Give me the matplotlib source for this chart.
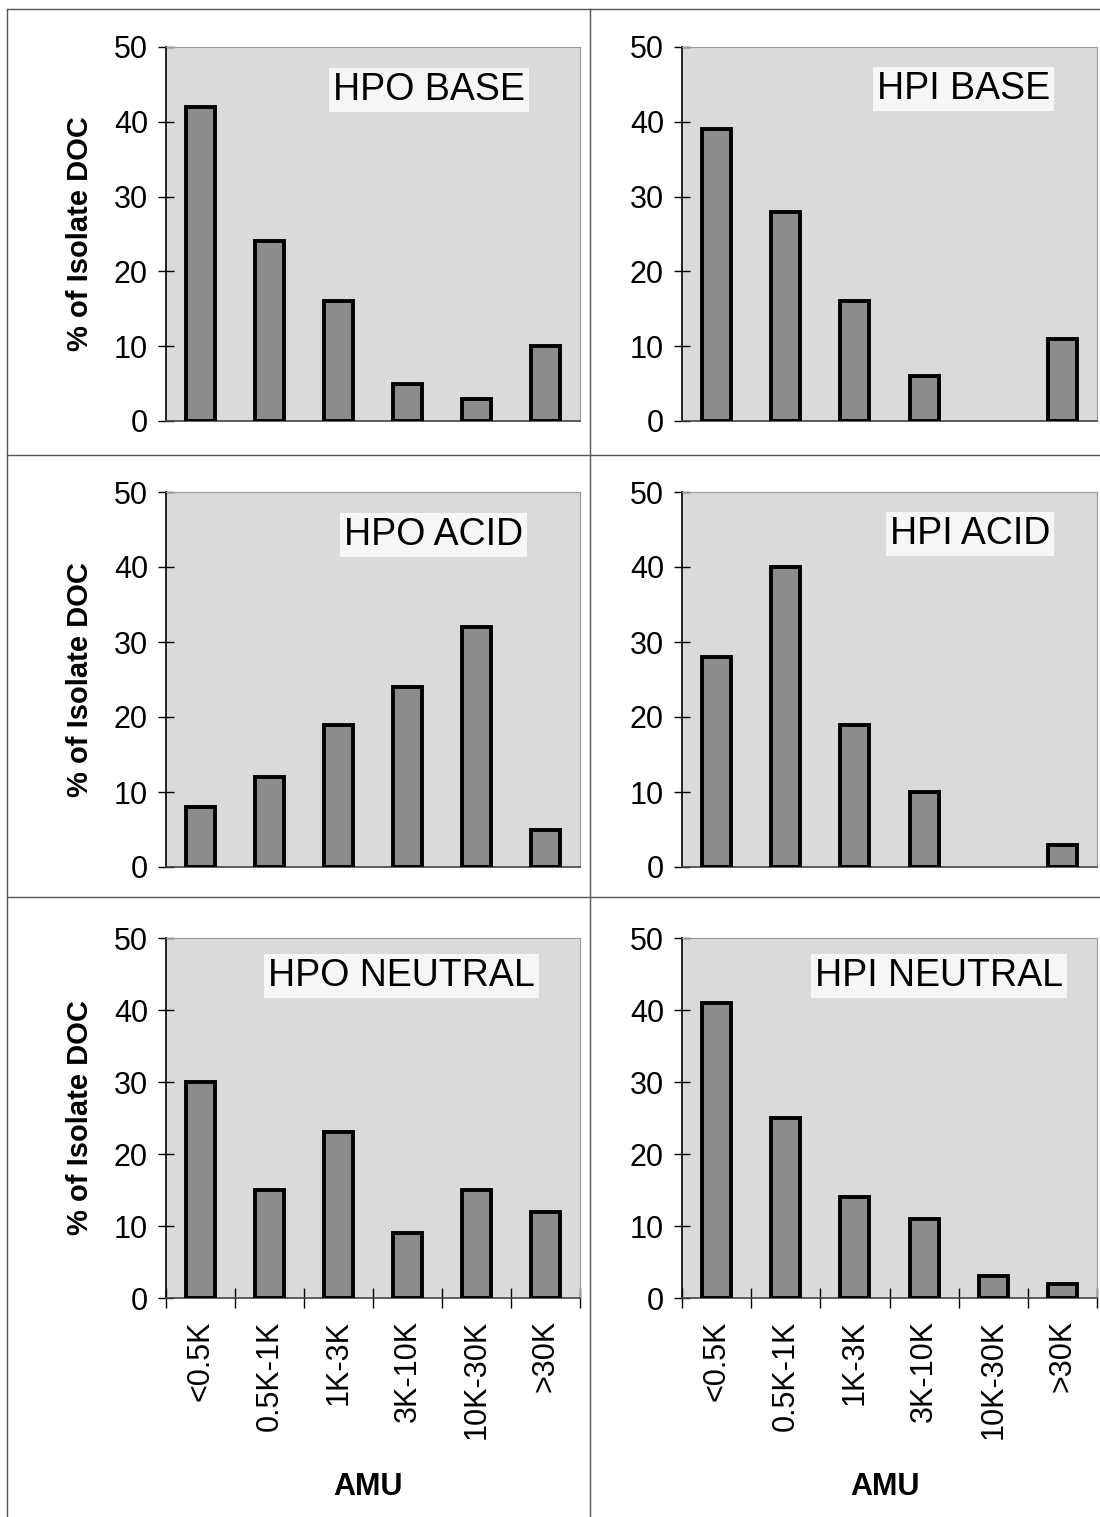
import numpy as np
import matplotlib.pyplot as plt

plt.rcParams['font.family'] = ['Liberation Sans', 'DejaVu Sans']

# categories (molecular weight ranges)
amu = ['<0.5K', '0.5K-1K', '1K-3K', '3K-10K', '10K-30K', '>30K']

# % of isolate DOC per fraction
hpo_base = [42, 24, 16, 5, 3, 10]
hpi_base = [39, 28, 16, 6, 0, 11]
hpo_acid = [8, 12, 19, 24, 32, 5]
hpi_acid = [28, 40, 19, 10, 0, 3]
hpo_neutral = [30, 15, 23, 9, 15, 12]
hpi_neutral = [41, 25, 14, 11, 3, 2]

names = ['HPO BASE', 'HPI BASE', 'HPO ACID', 'HPI ACID', 'HPO NEUTRAL', 'HPI NEUTRAL']
series = [hpo_base, hpi_base, hpo_acid, hpi_acid, hpo_neutral, hpi_neutral]

W, H = 1100, 1517
fig = plt.figure(figsize=(W / 100, H / 100), dpi=100)

# axes boxes in pixels: left, right, top, bottom
cols = [(166, 580), (682, 1097)]
rows = [(47, 421), (492, 867), (938, 1298)]
# title anchor (right edge x, centre y) in axes fraction
title_pos = [(0.867, 0.885), (0.887, 0.888), (0.862, 0.885),
             (0.887, 0.888), (0.891, 0.894), (0.918, 0.894)]

x = np.arange(len(amu))
for i, (name, vals) in enumerate(zip(names, series)):
    r, c = divmod(i, 2)
    l, rr = cols[c]
    t, b = rows[r]
    ax = fig.add_axes([l / W, 1 - b / H, (rr - l) / W, (b - t) / H])
    ax.set_facecolor('#dadada')
    vals = np.array(vals)
    keep = vals > 0  # empty classes draw nothing
    ax.bar(x[keep], vals[keep], width=0.42, color='#8c8c8c', edgecolor='black',
           linewidth=2.8, zorder=3)
    ax.set_xlim(-0.5, 5.5)
    ax.set_ylim(0, 50)
    ax.set_yticks([0, 10, 20, 30, 40, 50])
    ax.tick_params(axis='y', direction='inout', length=12, width=1, labelsize=22, pad=7)
    for s in ['top', 'right']:
        ax.spines[s].set_color('#9a9a9a')
        ax.spines[s].set_linewidth(0.8)
    ax.spines['left'].set_linewidth(1.2)
    ax.spines['bottom'].set_color('#444444')
    ax.spines['bottom'].set_linewidth(1.2)
    if r == 2:
        ax.set_xticks(x)
        ax.set_xticklabels(amu, rotation=90, fontsize=22)
        ax.set_xticks(np.arange(-0.5, 6, 1), minor=True)
        ax.tick_params(axis='x', which='major', length=0, pad=16)
        ax.tick_params(axis='x', which='minor', direction='inout', length=14, width=1)
    else:
        ax.set_xticks([])
    tx, ty = title_pos[i]
    ax.text(tx, ty, name, transform=ax.transAxes, ha='right', va='center', fontsize=27,
            zorder=5, bbox=dict(facecolor='#f6f6f6', edgecolor='none', pad=3))

# y labels on the left column
for t, b in rows:
    fig.text(80 / W, 1 - (t + b) / 2 / H, '% of Isolate DOC', rotation=90, ha='center',
             va='center', fontsize=21, fontweight='bold')

for cx in [368, 885]:
    fig.text(cx / W, 1 - 1487 / H, 'AMU', ha='center', va='center', fontsize=22, fontweight='bold')

# panel divider lines
lc = '#555555'
fig.add_artist(plt.Line2D([7 / W, 7 / W], [0, 1 - 9 / H], color=lc, lw=1))
fig.add_artist(plt.Line2D([590 / W, 590 / W], [0, 1 - 9 / H], color=lc, lw=1))
for y in [9, 455, 897]:
    fig.add_artist(plt.Line2D([7 / W, 1], [1 - y / H, 1 - y / H], color=lc, lw=1))

fig.savefig('out.png', dpi=100)
